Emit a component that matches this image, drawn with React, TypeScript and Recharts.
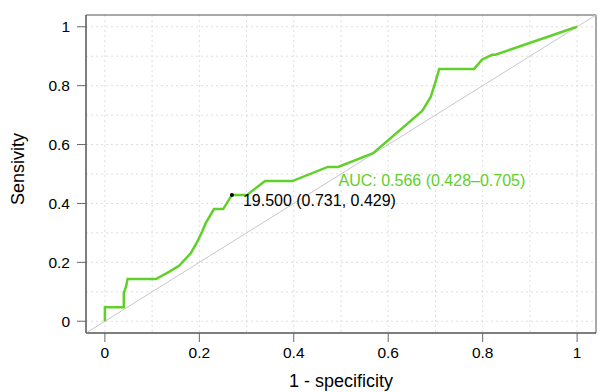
import {
  LineChart,
  Line,
  XAxis,
  YAxis,
  CartesianGrid,
  ReferenceLine,
  ReferenceDot,
  ReferenceArea,
} from 'recharts';

// ROC curve points (x = 1 - specificity, y = sensitivity)
const fpr = [
  0, 0, 0.04, 0.04, 0.045, 0.048, 0.108, 0.133, 0.157, 0.182, 0.196, 0.206, 0.2135, 0.231, 0.2505,
  0.269, 0.301, 0.339, 0.397, 0.472, 0.494, 0.568, 0.672, 0.69, 0.699, 0.708, 0.782, 0.799, 0.82,
  0.827, 1,
];
const tpr = [
  0, 0.0476, 0.0476, 0.095, 0.119, 0.143, 0.143, 0.165, 0.188, 0.231, 0.271, 0.305, 0.333, 0.381,
  0.381, 0.429, 0.429, 0.476, 0.476, 0.524, 0.524, 0.571, 0.714, 0.762, 0.807, 0.857, 0.857, 0.889,
  0.905, 0.905, 1,
];

const axisTicks = [0, 0.2, 0.4, 0.6, 0.8, 1];
const gridValues = [0, 0.1, 0.2, 0.3, 0.4, 0.5, 0.6, 0.7, 0.8, 0.9, 1];
const domain: [number, number] = [-0.04, 1.04];

const bestThreshold = 19.5;
const bestSpecificity = 0.731;
const bestSensitivity = 0.429;

const auc = 0.566;
const aucLow = 0.428;
const aucHigh = 0.705;

const GREEN = '#62d02a';
const FONT = '"Liberation Sans", Arial, Helvetica, sans-serif';

const data = fpr.map((x, i) => ({ x, y: tpr[i] }));

function BestLabel(props: any) {
  const { viewBox } = props;
  const cx = viewBox.x + viewBox.width / 2;
  const cy = viewBox.y + viewBox.height / 2;
  return (
    <text x={cx + 11} y={cy + 11.2} fill="#000" fontSize={16} fontFamily={FONT}>
      {`${bestThreshold.toFixed(3)} (${bestSpecificity.toFixed(3)}, ${bestSensitivity.toFixed(3)})`}
    </text>
  );
}

function AucLabel(props: any) {
  const { viewBox } = props;
  const cx = viewBox.x + viewBox.width / 2;
  const cy = viewBox.y + viewBox.height / 2;
  return (
    <text x={cx - 2.5} y={cy + 11.5} fill={GREEN} fontSize={16} fontFamily={FONT}>
      {`AUC: ${auc.toFixed(3)} (${aucLow.toFixed(3)}\u2013${aucHigh.toFixed(3)})`}
    </text>
  );
}

function XTitle(props: any) {
  const { viewBox } = props;
  return (
    <text
      x={viewBox.x + viewBox.width / 2}
      y={viewBox.y + 54}
      textAnchor="middle"
      fill="#000"
      fontSize={18}
      fontFamily={FONT}
    >
      1 - specificity
    </text>
  );
}

function YTitle(props: any) {
  const { viewBox } = props;
  const x = 24;
  const y = viewBox.y + viewBox.height / 2 - 5;
  return (
    <text
      x={x}
      y={y}
      transform={`rotate(-90, ${x}, ${y})`}
      textAnchor="middle"
      fill="#000"
      fontSize={18}
      fontFamily={FONT}
    >
      Sensivity
    </text>
  );
}

export default function App() {
  const tickStyle = { fill: '#000', fontSize: 15.5, fontFamily: FONT };
  return (
    <div style={{ position: 'absolute', left: 0, top: 0 }}>
      <LineChart
        width={598}
        height={392}
        data={data}
        margin={{ top: 15, right: 2, bottom: 0, left: 0 }}
      >
        <CartesianGrid
          verticalValues={gridValues}
          horizontalValues={gridValues}
          stroke="#dedede"
          strokeDasharray="2 3"
        />
        <XAxis
          type="number"
          dataKey="x"
          domain={domain}
          ticks={axisTicks}
          allowDataOverflow
          height={59}
          tickSize={9}
          tickMargin={5}
          tick={tickStyle}
          tickLine={{ stroke: '#666' }}
          axisLine={{ stroke: '#555' }}
          label={<XTitle />}
        />
        <YAxis
          type="number"
          dataKey="y"
          domain={domain}
          ticks={axisTicks}
          allowDataOverflow
          width={86}
          tickSize={9}
          tickMargin={7}
          tick={tickStyle}
          tickLine={{ stroke: '#666' }}
          axisLine={{ stroke: '#555' }}
          label={<YTitle />}
        />
        <ReferenceArea
          x1={domain[0]}
          x2={domain[1]}
          y1={domain[0]}
          y2={domain[1]}
          fill="none"
          stroke="#555"
          strokeWidth={1}
        />
        <ReferenceLine
          segment={[
            { x: domain[0], y: domain[0] },
            { x: domain[1], y: domain[1] },
          ]}
          stroke="#c8c8c8"
          strokeWidth={1}
        />
        <Line
          type="linear"
          dataKey="y"
          stroke={GREEN}
          strokeWidth={2.5}
          dot={false}
          activeDot={false}
          isAnimationActive={false}
        />
        <ReferenceDot
          x={1 - bestSpecificity}
          y={bestSensitivity}
          r={2}
          fill="#000"
          stroke="none"
          label={(p: any) => <BestLabel {...p} />}
        />
        <ReferenceDot
          x={0.5}
          y={0.5}
          r={0}
          fill="none"
          stroke="none"
          label={(p: any) => <AucLabel {...p} />}
        />
      </LineChart>
    </div>
  );
}
